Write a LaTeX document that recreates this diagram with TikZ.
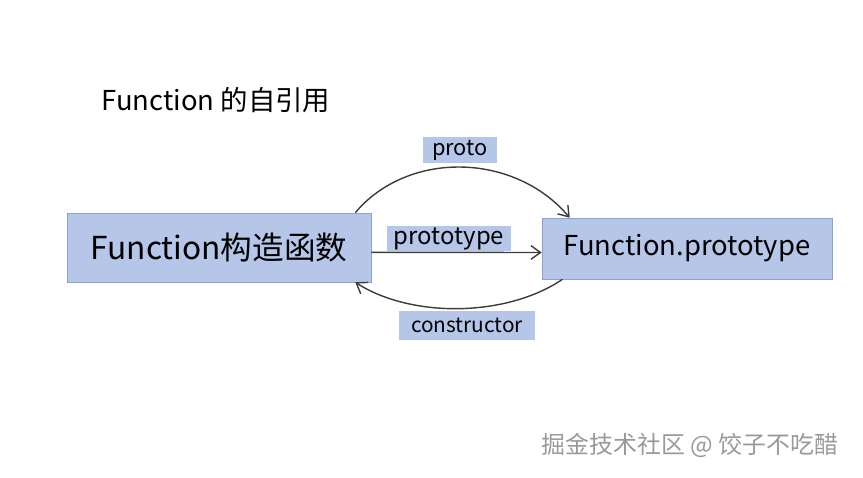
\documentclass[tikz,border=0pt]{standalone}
\usepackage{fontspec}
\setmainfont{Noto Sans CJK SC}
\usetikzlibrary{arrows.meta}
\definecolor{boxblue}{RGB}{182,198,232}
\definecolor{boxline}{RGB}{140,162,212}
\definecolor{arrowgray}{RGB}{60,60,60}
\begin{document}
\begin{tikzpicture}[>={Straight Barb[length=2.4mm,width=3.4mm]}]
				\useasboundingbox (0,0) rectangle (21.575,11.925);

				% Title
				\node (title) at (5.4,9.425) {\fontsize{19.5}{22}\selectfont Function 的自引用};

				% Constructor
				\node[draw=boxline, rectangle, minimum width=7.6cm, minimum height=1.725cm, fill=boxblue] (fn) at (5.475,5.7375) {\fontsize{22.5}{25}\selectfont Function构造函数};

				% Prototype object
				\node[draw=boxline, rectangle, minimum width=7.25cm, minimum height=1.525cm, fill=boxblue] (fnproto) at (17.175,5.7125) {\fontsize{19.5}{22}\selectfont Function.prototype};

				% Labels
				\node[rectangle, inner sep=0pt, minimum width=1.85cm, minimum height=0.65cm, fill=boxblue] (lproto) at (11.5,8.175) {\fontsize{15.5}{17}\selectfont proto};
				\node[rectangle, inner sep=0pt, minimum width=3.1cm, minimum height=0.625cm, fill=boxblue] (lprototype) at (11.225,5.9625) {\fontsize{17}{19}\selectfont prototype};
				\node[rectangle, inner sep=0pt, minimum width=3.4cm, minimum height=0.725cm, fill=boxblue] (lconstructor) at (11.675,3.7875) {\fontsize{14.8}{17}\selectfont constructor};

				% Arrows
				\draw[->, arrowgray, line width=1pt] ([xshift=-0.4cm]fn.north east) .. controls +(1.3,1.55) and +(-1.4,1.65) .. ([xshift=0.7cm]fnproto.north west);
				\draw[->, arrowgray, line width=1pt] ([yshift=-0.12cm]fn.east) -- ([yshift=-0.1cm]fnproto.west);
				\draw[->, arrowgray, line width=1pt] ([xshift=0.52cm]fnproto.south west) .. controls +(-1.4,-0.95) and +(1.4,-0.9) .. ([xshift=-0.4cm]fn.south east);

				% Watermark
				\node[text=gray!80] (mark) at (17.25,0.8) {\fontsize{17}{19}\selectfont 掘金技术社区 @ 饺子不吃醋};
			\end{tikzpicture}
\end{document}
